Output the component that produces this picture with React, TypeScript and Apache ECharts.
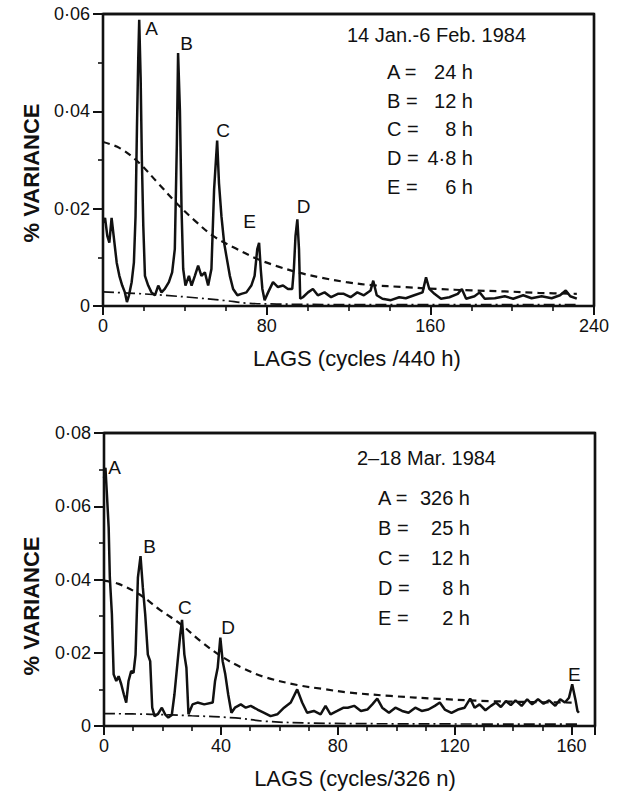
import { useEffect, useRef } from 'react';
import * as echarts from 'echarts';

const FONT = 'Liberation Sans';
const INK = '#111111';

// ---- Panel 1: 14 Jan.-6 Feb. 1984 ----
const janSpectrum: [number, number][] = [
  [0, 0.0171], [1, 0.0181], [2.1, 0.0144], [3.1, 0.013], [4.2, 0.0181], [5.4, 0.0137], [6.7, 0.0089],
  [8, 0.0062], [9.4, 0.0042], [10.7, 0.0028], [11.7, 0.0008], [12.7, 0.0022], [14, 0.0049], [15.1, 0.0089],
  [15.9, 0.0184], [16.6, 0.0367], [17.2, 0.0503], [17.7, 0.0588], [18.4, 0.0469], [19, 0.03], [19.7, 0.0164],
  [20.5, 0.0062], [22.1, 0.0042], [23.7, 0.0028], [25.4, 0.0022], [27, 0.0042], [28.6, 0.0028], [30.2, 0.0035],
  [32.2, 0.0049], [33.8, 0.0069], [35.1, 0.0117], [36.1, 0.0334], [36.7, 0.052], [37.6, 0.0401], [38.4, 0.0198],
  [39.2, 0.0076], [40.3, 0.0042], [42, 0.0062], [43.3, 0.0042], [44.9, 0.0062], [46.5, 0.0083], [48.1, 0.0062],
  [49.8, 0.0069], [51.4, 0.0042], [53, 0.0076], [54.3, 0.0239], [55.8, 0.034], [56.7, 0.0252], [57.9, 0.0184],
  [59.2, 0.013], [60.3, 0.0103], [62, 0.0062], [63.6, 0.0035], [65.7, 0.0022], [67.6, 0.0025], [70.1, 0.0028],
  [72.5, 0.0042], [74.1, 0.0062], [75.4, 0.0117], [76.3, 0.013], [77.1, 0.0076], [77.9, 0.0035], [79, 0.0012],
  [80.7, 0.0028], [83.1, 0.0049], [85.5, 0.0039], [88, 0.0042], [90.4, 0.0035], [92.5, 0.0035], [93.3, 0.0076],
  [94.1, 0.0144], [95, 0.0178], [95.8, 0.0117], [96.4, 0.0015], [97.7, 0.0018], [100.2, 0.0028], [102.6, 0.0035],
  [105, 0.0022], [108.3, 0.0028], [111.5, 0.0018], [114.8, 0.0025], [117.7, 0.0025], [121, 0.0018], [124.3, 0.0028],
  [127.5, 0.0022], [130.8, 0.0032], [132.1, 0.0052], [133.8, 0.0022], [136.6, 0.0015], [140.7, 0.0012],
  [144.8, 0.0018], [148, 0.0016], [152.1, 0.0022], [156.2, 0.0028], [157.9, 0.0059], [159.5, 0.0035],
  [162, 0.0025], [165.2, 0.0015], [169.3, 0.0018], [173.4, 0.0025], [175.4, 0.0035], [177.5, 0.0015],
  [181.6, 0.002], [184.1, 0.0028], [186.6, 0.0015], [191.5, 0.0016], [196.4, 0.002], [200.5, 0.0015],
  [205.4, 0.0022], [209.5, 0.0016], [214.4, 0.002], [219.3, 0.0016], [223.4, 0.0022], [226.2, 0.0032],
  [228.4, 0.002], [231.6, 0.0015],
];
const janUpper: [number, number][] = [
  [0, 0.0337], [8, 0.0325], [17.2, 0.0296], [27, 0.0252], [36.7, 0.0208], [45, 0.0175], [53.8, 0.0144],
  [65, 0.0118], [75.8, 0.0096], [85, 0.0082], [95.3, 0.0069], [107, 0.0058], [119, 0.0049], [131, 0.0043],
  [147, 0.0039], [163.6, 0.0035], [180, 0.0032], [196.4, 0.003], [212.8, 0.0027], [231.6, 0.0025],
];
const janLower: [number, number][] = [
  [0, 0.0029], [15, 0.0026], [30, 0.0022], [45, 0.0017], [60, 0.0011], [70, 0.0006], [85, 0.0004],
  [120, 0.0003], [232, 0.0003],
];
const janXMax = 240;
const janYMax = 0.06;
const janPeakNames = ['A', 'B', 'C', 'E', 'D'];
const janPeakPos: [number, number][] = [[23.7, 0.0571], [40.8, 0.054], [58.7, 0.0361], [71.7, 0.0174], [98, 0.0205]];
const janKeys = ['A =', 'B =', 'C =', 'D =', 'E ='];
const janPeriods = ['24 h', '12 h', '8 h', '4·8 h', '6 h'];
const janTitle = '14 Jan.-6 Feb. 1984';
const janXName = 'LAGS (cycles /440 h)';

// ---- Panel 2: 2-18 Mar. 1984 ----
const marSpectrum: [number, number][] = [
  [0, 0.0677], [0.5, 0.0705], [1, 0.0632], [1.6, 0.0541], [2, 0.0405], [2.7, 0.0305], [3.3, 0.0141],
  [4.2, 0.0123], [5, 0.0136], [5.9, 0.0114], [6.8, 0.0086], [7.6, 0.0064], [8.4, 0.0123], [9.3, 0.015],
  [10.1, 0.0145], [10.8, 0.0195], [11.6, 0.0405], [12.5, 0.0464], [13.3, 0.0377], [14.1, 0.0305], [15, 0.0195],
  [15.8, 0.0177], [16.5, 0.005], [17.3, 0.0027], [18.4, 0.0032], [19.8, 0.005], [20.9, 0.0032], [22, 0.0023],
  [23.2, 0.003], [24.1, 0.0086], [25.2, 0.0177], [26.1, 0.025], [26.7, 0.029], [27.5, 0.0195], [28.2, 0.0159],
  [28.9, 0.0032], [30.3, 0.0059], [32, 0.0064], [34.3, 0.0059], [37.2, 0.0064], [38, 0.0123], [38.9, 0.0159],
  [39.8, 0.0241], [40.6, 0.0177], [41.5, 0.0141], [42.5, 0.0086], [43.6, 0.0036], [44.8, 0.005], [46.8, 0.0059],
  [48.5, 0.005], [50.2, 0.0055], [52.5, 0.0045], [54.8, 0.0036], [57, 0.0027], [59.3, 0.0032], [61.6, 0.005],
  [63.9, 0.0064], [66.1, 0.01], [67.8, 0.0064], [69.5, 0.0036], [71.8, 0.0041], [74.1, 0.0032], [75.8, 0.0055],
  [77.5, 0.0032], [79.8, 0.0041], [82, 0.005], [83.4, 0.005], [85.6, 0.0055], [87.9, 0.0041], [90.1, 0.0045],
  [91.8, 0.0059], [93.5, 0.0075], [95.2, 0.005], [97.5, 0.0036], [99.7, 0.005], [102, 0.0041], [104.2, 0.0036],
  [106.5, 0.005], [108.7, 0.0041], [111, 0.0045], [113.2, 0.0055], [114.9, 0.0064], [116.6, 0.0045],
  [118.9, 0.0036], [121.1, 0.0045], [123.4, 0.005], [125.3, 0.0075], [126.8, 0.005], [128.5, 0.0059],
  [130.5, 0.0043], [132.4, 0.0055], [134.1, 0.0064], [135.8, 0.0052], [137.5, 0.0068], [139.2, 0.0057],
  [140.8, 0.007], [142.9, 0.0055], [144.8, 0.0073], [146.5, 0.0059], [148.5, 0.0073], [150.4, 0.0061],
  [152.3, 0.007], [154.4, 0.0055], [156.1, 0.0073], [157.7, 0.0064], [159.1, 0.0077], [160.2, 0.0114],
  [161.4, 0.0068], [162, 0.0041], [162.5, 0.0036],
];
const marUpper: [number, number][] = [
  [0, 0.0397], [5, 0.0388], [12.2, 0.0359], [19, 0.0318], [26.4, 0.0277], [33, 0.0232], [40, 0.0191],
  [47, 0.016], [54.8, 0.0134], [66.1, 0.0112], [75, 0.0101], [83.2, 0.0092], [98, 0.0082], [114.9, 0.0074],
  [131.8, 0.0068], [148.7, 0.0065], [160, 0.0064],
];
const marLower: [number, number][] = [
  [0, 0.0034], [16, 0.0032], [30, 0.0028], [45, 0.0022], [55, 0.0013], [70, 0.0008], [100, 0.0006], [162, 0.0005],
];
const marXMax = 168;
const marYMax = 0.08;
const marPeakNames = ['A', 'B', 'C', 'D', 'E'];
const marPeakPos: [number, number][] = [[3.6, 0.0705], [15.6, 0.0491], [27.7, 0.0323], [42.5, 0.0268], [160.9, 0.0141]];
const marKeys = ['A =', 'B =', 'C =', 'D =', 'E ='];
const marPeriods = ['326 h', '25 h', '12 h', '8 h', '2 h'];
const marTitle = '2–18 Mar. 1984';
const marXName = 'LAGS (cycles/326 n)';

const yName = '% VARIANCE';

const yFmt = (v: number) => (v === 0 ? '0' : v.toFixed(2).replace('.', '·'));

function grid(left: number, top: number, width: number, height: number) {
  return { left, top, width, height, show: true, borderColor: '#000', borderWidth: 2.4, outerBoundsMode: 'none' };
}

function xAxis(gridIndex: number, max: number, interval: number) {
  return {
    type: 'value', gridIndex, min: 0, max, interval,
    axisLine: { show: true, lineStyle: { color: INK, width: 2.2 } },
    axisTick: { show: true, inside: false, length: 9, lineStyle: { color: INK, width: 2 } },
    minorTick: { show: true, splitNumber: 4, length: 5, lineStyle: { color: INK, width: 1.6 } },
    splitLine: { show: false },
    axisLabel: { color: INK, fontSize: 18, fontFamily: FONT, margin: 11, showMaxLabel: max % interval === 0 },
  };
}
function yAxis(gridIndex: number, max: number) {
  return {
    type: 'value', gridIndex, min: 0, max, interval: 0.02,
    axisLine: { show: true, lineStyle: { color: INK, width: 2.2 } },
    axisTick: { show: true, inside: false, length: 10, lineStyle: { color: INK, width: 2 } },
    minorTick: { show: true, splitNumber: 2, length: 5, lineStyle: { color: INK, width: 1.6 } },
    splitLine: { show: false },
    axisLabel: { color: INK, fontSize: 18, fontFamily: FONT, margin: 13, formatter: yFmt },
  };
}

function lineSeries(idx: number, data: [number, number][], kind: 'solid' | 'dash' | 'dashdot') {
  const style =
    kind === 'solid'
      ? { color: INK, width: 2.5, type: 'solid' as any }
      : kind === 'dash'
      ? { color: INK, width: 2.2, type: [7, 5] as any }
      : { color: INK, width: 1.7, type: [11, 4, 2, 4] as any };
  return {
    type: 'line', xAxisIndex: idx, yAxisIndex: idx, data, showSymbol: false, symbol: 'none',
    smooth: kind === 'solid' ? false : 0.35,
    lineStyle: style, z: kind === 'solid' ? 3 : 2,
  };
}

// top and right edges of the plot box, drawn through the axes
function frameSeries(idx: number, xMax: number, yMax: number) {
  return {
    type: 'line', xAxisIndex: idx, yAxisIndex: idx, showSymbol: false, symbol: 'none', clip: false,
    data: [[0, yMax], [xMax, yMax], [xMax, 0]],
    lineStyle: { color: INK, width: 2.3, type: 'solid' }, z: 4, silent: true,
  };
}

function peakSeries(idx: number, names: string[], pos: [number, number][]) {
  return {
    type: 'scatter', xAxisIndex: idx, yAxisIndex: idx, symbolSize: 0,
    itemStyle: { color: INK, opacity: 1 },
    data: names.map((n, i) => ({ name: n, value: pos[i] })),
    label: {
      show: true, position: 'inside', formatter: '{b}', color: INK, opacity: 1,
      fontSize: 19, fontFamily: FONT, textBorderWidth: 0,
    },
    labelLayout: { hideOverlap: false },
    z: 5,
  };
}

function txt(text: string, x: number, y: number, size: number, align = 'left', extra: any = {}) {
  const { weight, ...rest } = extra;
  return {
    type: 'text', x, y, ...rest,
    style: { text, fill: INK, font: `${weight || 'normal'} ${size}px "${FONT}"`, align, verticalAlign: 'middle' },
  };
}

export default function App() {
  const ref = useRef<HTMLDivElement>(null);
  useEffect(() => {
    const chart = echarts.init(ref.current!, undefined, { renderer: 'svg' });
    const graphics: any[] = [
      txt(janTitle, 347, 35, 20),
      txt(marTitle, 357, 458, 20),
      txt(janXName, 357, 358, 22, 'center'),
      txt(marXName, 355, 778, 22, 'center'),
      txt(yName, 31, 173, 22, 'center', { rotation: Math.PI / 2, weight: 'bold' }),
      txt(yName, 31, 606, 22, 'center', { rotation: Math.PI / 2, weight: 'bold' }),
    ];
    janKeys.forEach((k, i) => {
      graphics.push(txt(k, 387, 72 + i * 28.7, 20));
      graphics.push(txt(janPeriods[i], 473, 72 + i * 28.7, 20, 'right'));
    });
    marKeys.forEach((k, i) => {
      graphics.push(txt(k, 378, 498 + i * 30, 20));
      graphics.push(txt(marPeriods[i], 470, 498 + i * 30, 20, 'right'));
    });
    chart.setOption({
      animation: false,
      backgroundColor: '#ffffff',
      grid: [grid(103, 14, 491, 292), grid(104, 433, 491, 293)],
      xAxis: [xAxis(0, janXMax, 80), xAxis(1, marXMax, 40)],
      yAxis: [yAxis(0, janYMax), yAxis(1, marYMax)],
      series: [
        lineSeries(0, janUpper, 'dash'),
        lineSeries(0, janLower, 'dashdot'),
        lineSeries(0, janSpectrum, 'solid'),
        frameSeries(0, janXMax, janYMax),
        peakSeries(0, janPeakNames, janPeakPos),
        lineSeries(1, marUpper, 'dash'),
        lineSeries(1, marLower, 'dashdot'),
        lineSeries(1, marSpectrum, 'solid'),
        frameSeries(1, marXMax, marYMax),
        peakSeries(1, marPeakNames, marPeakPos),
      ],
      graphic: graphics,
    });
    return () => chart.dispose();
  }, []);
  return (
    <div
      ref={ref}
      style={{ position: 'fixed', left: 0, top: 0, width: 629, height: 794, background: '#fff' }}
    />
  );
}
